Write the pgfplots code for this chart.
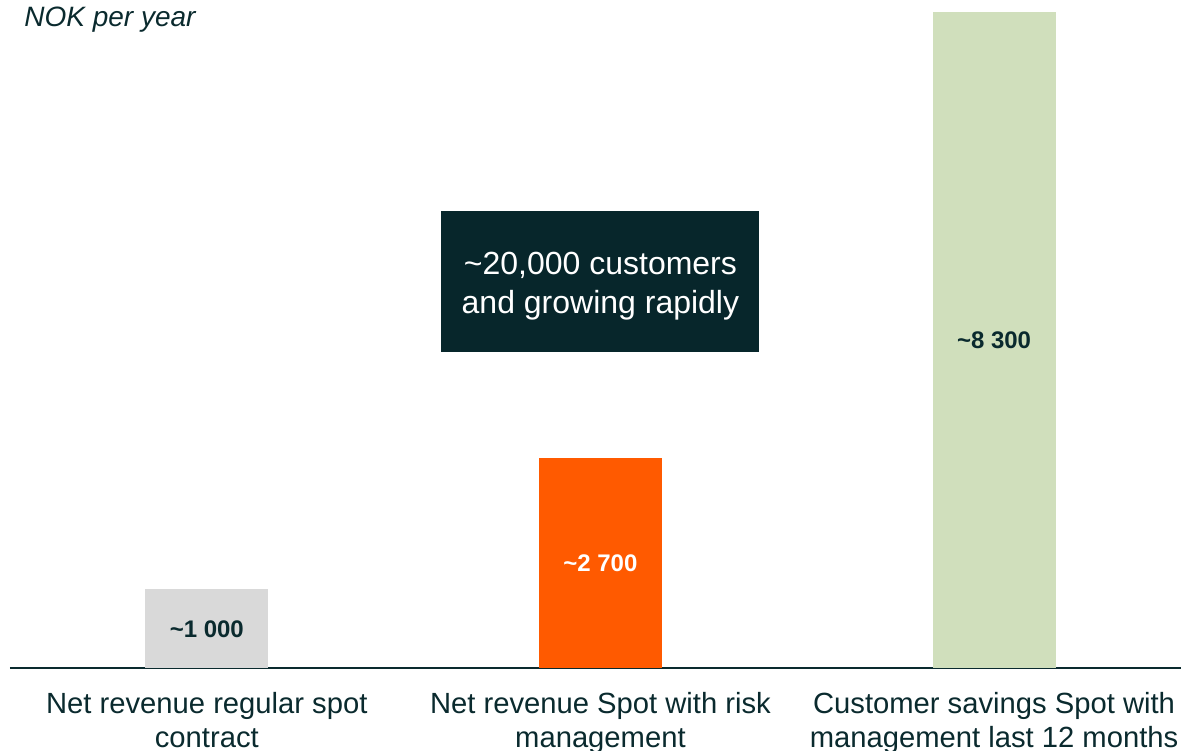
\documentclass[border=0pt]{standalone}
\usepackage{fontspec}
\setmainfont{Liberation Sans}
\usepackage{pgfplots}
\pgfplotsset{compat=1.18}
\definecolor{dk}{HTML}{0A2A2E}
\definecolor{gr}{HTML}{D9D9D9}
\definecolor{orng}{HTML}{FF5A00}
\definecolor{grn}{HTML}{D0DFBC}
\definecolor{boxc}{HTML}{07262B}
\begin{document}
\begin{tikzpicture}
\clip (0,0) rectangle (590.5pt,375pt);
\begin{axis}[
  at={(5pt,41pt)}, anchor=south west,
  scale only axis, width=585.5pt, height=328pt,
  xmin=-0.5, xmax=2.475, ymin=0, ymax=8300,
  axis x line*=bottom, axis y line=none,
  x axis line style={dk, line width=1pt},
  xtick={0,1,2},
  xticklabels={{Net revenue regular spot\\contract},{Net revenue Spot with risk\\management},{Customer savings Spot with\\management last 12 months}},
  major tick length=0pt,
  xticklabel style={align=center, font=\fontsize{14.6}{17}\selectfont, text=dk, yshift=-8.5pt},
  clip=false,
  ybar, bar width=61.5pt,
]
\addplot[fill=gr, draw=none, bar shift=0pt] coordinates {(0,1000)};
\addplot[fill=orng, draw=none, bar shift=0pt] coordinates {(1,2660)};
\addplot[fill=grn, draw=none, bar shift=0pt] coordinates {(2,8300)};
\node[font=\bfseries\fontsize{12}{14}\selectfont, text=dk] at (axis cs:0,490) {\textasciitilde1 000};
\node[font=\bfseries\fontsize{12}{14}\selectfont, text=white] at (axis cs:1,1320) {\textasciitilde2 700};
\node[font=\bfseries\fontsize{12}{14}\selectfont, text=dk] at (axis cs:2,4150) {\textasciitilde8 300};
\node[fill=boxc, text=white, minimum width=159pt, minimum height=70.5pt, align=center, font=\fontsize{16}{19.5}\selectfont] (b) at (axis cs:1,4890) {};
\node[text=white, align=center, font=\fontsize{16}{19.5}\selectfont, yshift=-2.5pt] at (b.center) {\textasciitilde20,000 customers\\and growing rapidly};
\end{axis}
\node[anchor=base west, inner sep=0pt, font=\itshape\fontsize{14}{16}\selectfont, text=dk] at (12pt,361.5pt) {NOK per year};
\end{tikzpicture}
\end{document}
